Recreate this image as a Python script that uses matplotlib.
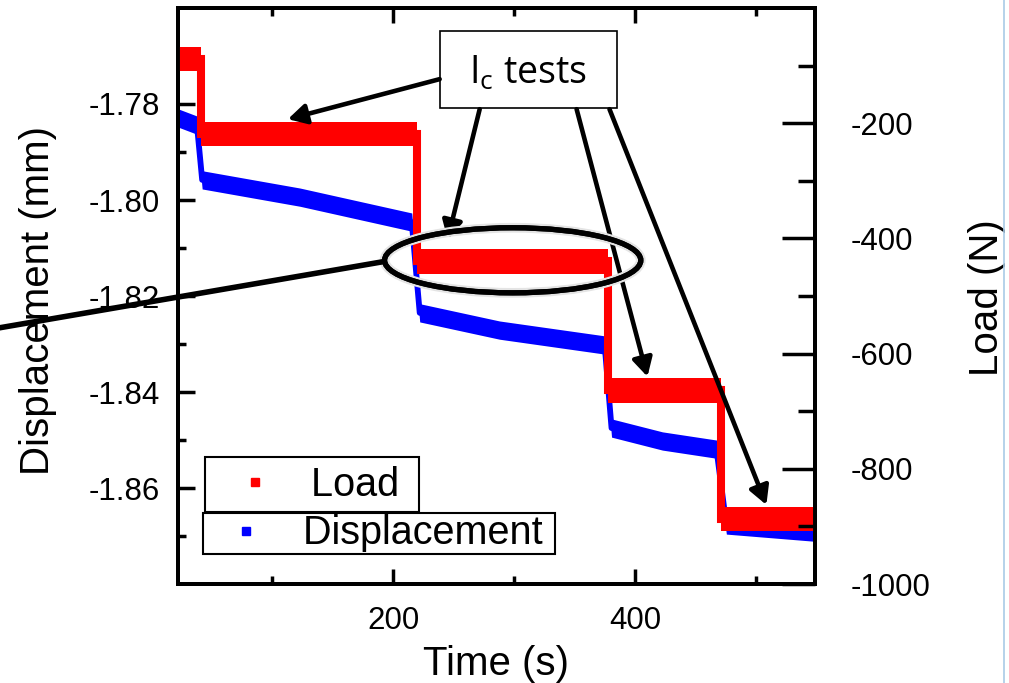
import matplotlib
matplotlib.use("Agg")
import matplotlib.pyplot as plt
import numpy as np
from matplotlib.patches import Ellipse, Rectangle
from matplotlib.lines import Line2D
from matplotlib.ticker import FixedLocator, FormatStrFormatter
import matplotlib.patheffects as pe

plt.rcParams["font.family"] = ["Liberation Sans", "DejaVu Sans"]
plt.rcParams["axes.unicode_minus"] = False

# Load (N) - step plateaus
load_time = [22, 41, 41, 219.5, 219.5, 378, 378, 471.5, 471.5, 549]
load_vals = [-89, -89, -219, -219, -440, -440, -664, -664, -887, -887]
load_spread = 21  # half width of the noisy band (N)

# Displacement (mm)
disp_time = [22, 37.7, 42, 122.8, 215.4, 222, 288, 375, 380.7, 422.8, 467.5, 475.7, 549]
disp_vals = [-1.7829, -1.7844, -1.7958, -1.7994, -1.8046, -1.8235, -1.8271,
             -1.8302, -1.8475, -1.8502, -1.8519, -1.8677, -1.8692]
disp_spread = 0.0019  # half width of the noisy band (mm)

disp_ticks = [-1.86, -1.84, -1.82, -1.80, -1.78]
disp_minor = [-1.87, -1.85, -1.83, -1.81, -1.79, -1.77]
load_ticks = [-1000, -800, -600, -400, -200]
load_minor = [-900, -700, -500, -300, -100]
time_ticks = [200, 400]
time_minor = [100, 300, 500]

fig = plt.figure(figsize=(10.09, 6.83), dpi=100)
ax = fig.add_axes([0.1764, 0.1449, 0.6313, 0.8434])
ax2 = ax.twinx()

dv = np.array(disp_vals)
ax.fill_between(disp_time, dv - disp_spread, dv + disp_spread, color="#0000ff", lw=0)
ax.plot(disp_time, disp_vals, color="#0000ff", lw=4.2)

lv = np.array(load_vals)
ax2.fill_between(load_time, lv - load_spread, lv + load_spread, color="#ff0000", lw=0)
ax2.plot(load_time, load_vals, color="#ff0000", lw=5.8, solid_joinstyle="miter")

ax.set_xlim(22, 549)
ax.set_ylim(-1.88, -1.76)
ax2.set_ylim(-1000, 0)

ax.xaxis.set_major_locator(FixedLocator(time_ticks))
ax.xaxis.set_minor_locator(FixedLocator(time_minor))
ax.yaxis.set_major_locator(FixedLocator(disp_ticks))
ax.yaxis.set_minor_locator(FixedLocator(disp_minor))
ax.yaxis.set_major_formatter(FormatStrFormatter("%.2f"))
ax2.yaxis.set_major_locator(FixedLocator(load_ticks))
ax2.yaxis.set_minor_locator(FixedLocator(load_minor))

ax.tick_params(axis="x", which="both", direction="in", top=True, width=2.5,
               labelsize=22.5, pad=16)
ax.tick_params(axis="x", which="major", length=11)
ax.tick_params(axis="x", which="minor", length=6)
ax.tick_params(axis="y", which="both", direction="in", right=False, width=2.5,
               labelsize=22.5, pad=13)
ax.tick_params(axis="y", which="major", length=12)
ax.tick_params(axis="y", which="minor", length=6)
ax2.tick_params(axis="y", which="both", direction="in", width=2.5,
                labelsize=22.5, pad=26)
ax2.tick_params(axis="y", which="major", length=24)
ax2.tick_params(axis="y", which="minor", length=12)

for a in (ax, ax2):
    for s in a.spines.values():
        s.set_linewidth(2.8)

ax.set_xlabel("Time (s)", fontsize=29)
ax.xaxis.set_label_coords(0.5, -0.105)
ax.set_ylabel("Displacement (mm)", fontsize=29)
ax.yaxis.set_label_coords(-0.19, 0.493)
ax2.set_ylabel("Load (N)", fontsize=29)
ax2.yaxis.set_label_coords(1.24, 0.497)

# legend: two separate boxes as in the original
h_load = Line2D([], [], ls="none", marker="s", ms=6, color="#ff0000")
h_disp = Line2D([], [], ls="none", marker="s", ms=6, color="#0000ff")
leg_kw = dict(loc="upper left", borderaxespad=0, frameon=True, fancybox=False,
              edgecolor="black", framealpha=1, fontsize=28.5)
leg1 = ax2.legend([h_load], ["Load "], bbox_to_anchor=(0.0424, 0.2205),
                  handlelength=2.1, handletextpad=0.35, borderpad=0.22, **leg_kw)
leg1.get_frame().set_linewidth(1.5)
ax2.add_artist(leg1)
leg2 = ax2.legend([h_disp], ["Displacement "], bbox_to_anchor=(0.0392, 0.123),
                  handlelength=2.1, handletextpad=0.4, borderpad=0.03, **leg_kw)
leg2.get_frame().set_linewidth(1.5)

# "Ic tests" callout
ax2.add_patch(Rectangle((238.5, -174), 146.3, 134, facecolor="white",
                        edgecolor="black", lw=1.2, clip_on=False, zorder=6))
ax2.text(311.6, -113, r"I$_\mathregular{c}$ tests", ha="center", va="center",
         fontsize=27, family=["Open Sans", "DejaVu Sans"], zorder=7)

arrows = [
    ((238.5, -123.5), (112.9, -193)),
    ((271.6, -175.7), (245.1, -401.7)),
    ((351.8, -175.7), (410.4, -640)),
    ((379.0, -175.7), (508.8, -862.6)),
]
for start, tip in arrows:
    ax2.annotate("", xy=tip, xytext=start, zorder=8,
                 arrowprops=dict(arrowstyle="-|>,head_length=0.55,head_width=0.3",
                                 mutation_scale=20, lw=3.3, color="black",
                                 shrinkA=0, shrinkB=0))

ell = Ellipse((298.9, -438), 212, 113, fill=False, edgecolor="black", lw=3.8,
              zorder=8, clip_on=False,
              path_effects=[pe.withStroke(linewidth=7, foreground="#e4e4e4"), pe.Normal()])
ax2.add_patch(ell)
# line leaving the ellipse towards the left edge
ax2.plot([192.9, -133.4], [-440, -558], color="black", lw=4, clip_on=False,
         solid_capstyle="butt", zorder=9)

# thin slide border on the right
fig.add_artist(Line2D([0.9955, 0.9955], [0, 1], transform=fig.transFigure,
                      color="#a9cbe6", lw=1.2))

fig.savefig("out.png", dpi=100)
